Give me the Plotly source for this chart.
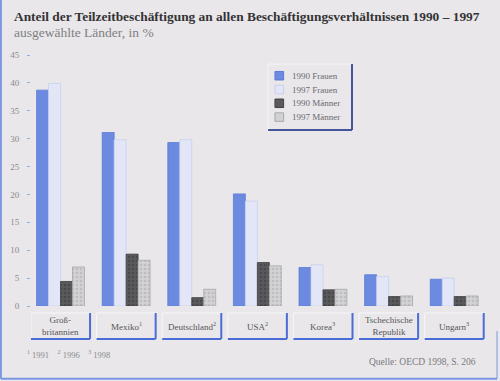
import plotly.graph_objects as go

categories = ["Groß-<br>britannien", "Mexiko<sup>1</sup>", "Deutschland<sup>2</sup>", "USA<sup>2</sup>",
              "Korea<sup>3</sup>", "Tschechische<br>Republik", "Ungarn<sup>3</sup>"]
frauen_1990 = [38.7, 31.1, 29.3, 20.1, 6.9, 5.6, 4.8]
frauen_1997 = [39.9, 29.8, 29.8, 18.8, 7.4, 5.3, 5.0]
maenner_1990 = [4.4, 9.3, 1.5, 7.8, 2.9, 1.7, 1.7]
maenner_1997 = [7.0, 8.2, 3.0, 7.2, 3.0, 1.8, 1.8]
series_names = ["1990 Frauen", "1997 Frauen", "1990 Männer", "1997 Männer"]
y_ticks = [0, 5, 10, 15, 20, 25, 30, 35, 40, 45]

BG = "#e9e7e9"
SERIF = "Liberation Serif, DejaVu Serif, serif"
colors = ["#6b8ae0", "#e3e6f7", "#5a5a5c", "#d2d2d5"]
edges = ["#5a7bd8", "#c8d0f0", "#404042", "#a8a8ab"]
patterns = ["", "", ".", "."]
pattern_fg = ["", "", "#38383a", "#a9a9ad"]

x_idx = list(range(len(categories)))
fig = go.Figure()
for name, vals, c, e, p, pf in zip(series_names, [frauen_1990, frauen_1997, maenner_1990, maenner_1997],
                                   colors, edges, patterns, pattern_fg):
    marker = dict(color=c, line=dict(color=e, width=0.8))
    if p:
        marker["pattern"] = dict(shape=p, fgcolor=pf, bgcolor=c, size=4, solidity=0.35)
    fig.add_trace(go.Bar(x=x_idx, y=vals, name=name, marker=marker, showlegend=False))

shapes = []
annotations = []
for i, cat in enumerate(categories):
    shapes.append(dict(type="rect", xref="x", yref="paper", x0=i - 0.45, x1=i + 0.45,
                       y0=-0.131, y1=-0.028, line=dict(color="#f6f6f8", width=1), fillcolor=BG, layer="below"))
    shapes.append(dict(type="line", xref="x", yref="paper", x0=i - 0.45, x1=i + 0.45,
                       y0=-0.131, y1=-0.131, line=dict(color="#4a6cd6", width=2)))
    shapes.append(dict(type="line", xref="x", yref="paper", x0=i + 0.45, x1=i + 0.45,
                       y0=-0.131, y1=-0.028, line=dict(color="#4a6cd6", width=2)))
    annotations.append(dict(x=i, xref="x", y=-0.08, yref="paper", text=cat, showarrow=False,
                            yanchor="middle", xanchor="center",
                            font=dict(family=SERIF, size=9, color="#555558")))

# legend box (drawn in the chart's own paper coordinates)
LX0, LX1, LY0, LY1 = 0.520, 0.704, 0.701, 0.964
shapes.append(dict(type="rect", xref="paper", yref="paper", x0=LX0, x1=LX1, y0=LY0, y1=LY1,
                   line=dict(color="#f4f4f6", width=1), fillcolor=BG))
shapes.append(dict(type="line", xref="paper", yref="paper", x0=LX0, x1=LX1, y0=LY0, y1=LY0,
                   line=dict(color="#44549a", width=2)))
shapes.append(dict(type="line", xref="paper", yref="paper", x0=LX1, x1=LX1, y0=LY0, y1=LY1,
                   line=dict(color="#44549a", width=2)))
legend_y = [0.9175, 0.8625, 0.8076, 0.7526]
for name, c, e, ly in zip(series_names, colors, edges, legend_y):
    shapes.append(dict(type="rect", xref="paper", yref="paper", x0=0.535, x1=0.554,
                       y0=ly - 0.017, y1=ly + 0.017, fillcolor=c, line=dict(color=e, width=1)))
    annotations.append(dict(x=0.568, xref="paper", y=ly, yref="paper", xanchor="left", yanchor="middle",
                            showarrow=False, text=name,
                            font=dict(family=SERIF, size=9, color="#6a6a70")))

# outer frame (left, bottom, right)
shapes.append(dict(type="line", xref="paper", yref="paper", x0=-0.066, x1=-0.066, y0=-0.29, y1=1.22,
                   line=dict(color="#7a96e4", width=2)))
shapes.append(dict(type="line", xref="paper", yref="paper", x0=-0.066, x1=1.022, y0=-0.29, y1=-0.29,
                   line=dict(color="#7a96e4", width=2)))
shapes.append(dict(type="line", xref="paper", yref="paper", x0=1.022, x1=1.022, y0=-0.29, y1=-0.1,
                   line=dict(color="#7a96e4", width=1)))

fig.update_layout(
    width=500, height=381,
    paper_bgcolor=BG, plot_bgcolor=BG,
    margin=dict(l=31, r=13, t=55, b=75, autoexpand=False),
    barmode="group", bargap=0.27, bargroupgap=0,
    showlegend=False,
    xaxis=dict(range=[-0.45, 6.5], showticklabels=False, showgrid=False, zeroline=False,
               showline=False, ticks="", automargin=False),
    yaxis=dict(range=[0, 45], tickvals=y_ticks, ticktext=[str(t) for t in y_ticks],
               showgrid=False, zeroline=False, showline=False, ticks="outside", ticklen=3,
               tickcolor="#8ab0ee", ticklabelstandoff=6, automargin=False,
               tickfont=dict(family=SERIF, size=9, color="#8a8a8e")),
    shapes=shapes,
    annotations=annotations + [
        dict(x=-0.042, xref="paper", y=1.155, yref="paper", xanchor="left", yanchor="middle", showarrow=False,
             text="<b>Anteil der Teilzeitbeschäftigung an allen Beschäftigungsverhältnissen 1990 – 1997</b>",
             font=dict(family=SERIF, size=13.4, color="#333336")),
        dict(x=-0.042, xref="paper", y=1.09, yref="paper", xanchor="left", yanchor="middle", showarrow=False,
             text="ausgewählte Länder, in %",
             font=dict(family=SERIF, size=13.5, color="#808084")),
        dict(x=-0.013, xref="paper", y=-0.195, yref="paper", xanchor="left", yanchor="middle", showarrow=False,
             text="<sup>1</sup> 1991    <sup>2</sup> 1996    <sup>3</sup> 1998",
             font=dict(family=SERIF, size=8.5, color="#8a8a8e")),
        dict(x=0.98, xref="paper", y=-0.223, yref="paper", xanchor="right", yanchor="middle", showarrow=False,
             text="Quelle: OECD 1998, S. 206",
             font=dict(family=SERIF, size=9.5, color="#7a7a7e")),
    ],
)
fig.write_html("out.html", config={"displayModeBar": False},
               post_script="document.body.style.margin='0px';document.body.style.background='#e9e7e9';")
